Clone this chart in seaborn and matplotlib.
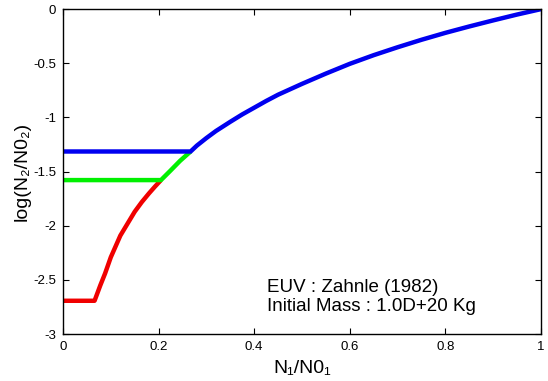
import numpy as np
import pandas as pd
import matplotlib
matplotlib.use('Agg')
import matplotlib.pyplot as plt
import seaborn as sns

# --- Datos ---
red_x = [0.0, 0.066, 0.078, 0.088, 0.10, 0.11, 0.12, 0.135, 0.15, 0.165, 0.18, 0.192, 0.205]
red_y = [-2.692, -2.692, -2.55, -2.44, -2.29, -2.19, -2.09, -1.98, -1.87, -1.78, -1.70, -1.64, -1.578]

green_x = [0.0, 0.205, 0.225, 0.245, 0.267]
green_y = [-1.578, -1.578, -1.49, -1.40, -1.314]

blue_x = [0.0, 0.267, 0.28, 0.30, 0.32, 0.35, 0.375, 0.40, 0.425, 0.45, 0.50, 0.55, 0.60,
          0.65, 0.70, 0.75, 0.80, 0.85, 0.90, 0.95, 1.0]
blue_y = [-1.314, -1.314, -1.26, -1.19, -1.125, -1.04, -0.972, -0.91, -0.848, -0.79, -0.69,
          -0.595, -0.505, -0.425, -0.352, -0.283, -0.219, -0.160, -0.104, -0.050, 0.0]

x_ticks = [0, 0.2, 0.4, 0.6, 0.8, 1]
x_labels = ['0', '0.2', '0.4', '0.6', '0.8', '1']
y_ticks = [0, -0.5, -1, -1.5, -2, -2.5, -3]
y_labels = ['0', '-0.5', '-1', '-1.5', '-2', '-2.5', '-3']

sns.set_style('ticks')
plt.rcParams['font.family'] = ['Liberation Sans', 'DejaVu Sans']
plt.rcParams['text.color'] = 'black'
plt.rcParams['axes.labelcolor'] = 'black'

fig = plt.figure(figsize=(5.48, 3.81), dpi=100)
ax = fig.add_axes([0.115, 0.123, 0.872, 0.853])

series = [(red_x, red_y, '#f00000'), (green_x, green_y, '#00f000'), (blue_x, blue_y, '#0000f0')]
for xs, ys, col in series:
    df = pd.DataFrame({'x': xs, 'y': ys})
    sns.lineplot(data=df, x='x', y='y', ax=ax, color=col, linewidth=3.2,
                 sort=False, estimator=None, solid_capstyle='butt')

ax.set_xlim(0, 1)
ax.set_ylim(-3, 0)
ax.set_xticks(x_ticks)
ax.set_xticklabels(x_labels)
ax.set_yticks(y_ticks)
ax.set_yticklabels(y_labels)
ax.tick_params(direction='in', top=True, right=True, length=4, width=0.8,
               labelsize=9.5, colors='black', pad=5)
for sp in ax.spines.values():
    sp.set_linewidth(1.0)
    sp.set_color('black')

ax.set_xlabel('N\u2081/N0\u2081', fontsize=14, labelpad=5)
ax.set_ylabel('log(N\u2082/N0\u2082)', fontsize=14, labelpad=2)

ax.text(0.426, -2.612, 'EUV : Zahnle (1982)', fontsize=13.5, va='baseline')
ax.text(0.426, -2.788, 'Initial Mass : 1.0D+20 Kg', fontsize=13.5, va='baseline')

fig.savefig('out.png', dpi=100)
